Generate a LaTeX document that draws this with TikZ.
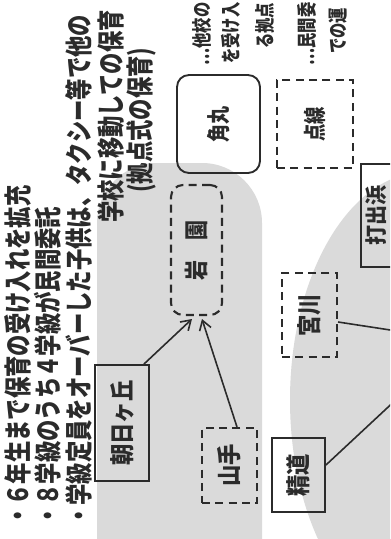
\documentclass[tikz,border=0pt]{standalone}
\usepackage{fontspec}
\setmainfont{Noto Sans CJK JP}
\usepackage{graphicx}
\usetikzlibrary{arrows.meta}
\definecolor{ink}{HTML}{2B2B2B}
\definecolor{blobgray}{HTML}{DADADA}
\newcommand\vlab[3]{\rotatebox{90}{\fontsize{#1}{#1}\selectfont\bfseries\scalebox{1}[#2]{#3}}}
\begin{document}
\begin{tikzpicture}[x=0.75pt,y=-0.75pt,
  solidbox/.style={draw=ink,line width=1.4pt,inner sep=0pt,text=ink},
  dashbox/.style={draw=ink,line width=1.6pt,dash pattern=on 6pt off 4pt,inner sep=0pt,text=ink},
  conn/.style={draw=ink,line width=1.2pt},
  arr/.style={conn,-{Straight Barb[length=7pt,width=9pt,line width=1.2pt]}},
  txt/.style={rotate=90,anchor=west,inner sep=0pt,text=ink},
  bigtxt/.style={txt,font=\fontsize{16pt}{16pt}\selectfont\bfseries},
  smalltxt/.style={txt,font=\fontsize{11.5pt}{11.5pt}\selectfont\bfseries}
]
\useasboundingbox (0,0) rectangle (390,539);
\clip (0,0) rectangle (390,539);
\fill[white] (0,0) rectangle (390,539);
% gray background blobs
\fill[blobgray, rounded corners=45pt] (97,163) rectangle (262,620);
\fill[blobgray] (425,400) ellipse [x radius=101.25pt, y radius=171pt];

% bullet text
\node[bigtxt] (l1) at (17.5,527) {\scalebox{1}[1.3]{・６年生まで保育の受け入れを拡充}};
\node[bigtxt] (l2) at (47.5,527) {\scalebox{1}[1.3]{・８学級のうち４学級が民間委託}};
\node[bigtxt] (l3) at (79,527) {\scalebox{1}[1.3]{・学級定員をオーバーした子供は、タクシー等で他の}};
\node[bigtxt] (l4) at (111,223) {\scalebox{1}[1.3]{学校に移動しての保育}};
\node[bigtxt] (l5) at (141,193) {\scalebox{1}[1.3]{(拠点式の保育)}};

% legend text (cut at top)
\node[smalltxt] (r1) at (202,66) {\scalebox{1}[1.3]{…他校の}};
\node[smalltxt] (r2) at (231,64) {\scalebox{1}[1.3]{を受け入}};
\node[smalltxt] (r3) at (265,49) {\scalebox{1}[1.3]{る拠点}};
\node[smalltxt] (r4) at (307,66) {\scalebox{1}[1.3]{…民間委}};
\node[smalltxt] (r5) at (338,54) {\scalebox{1}[1.3]{での運}};

% boxes
\node[solidbox,rounded corners=9pt,minimum width=62.25pt,minimum height=73.5pt] (kaku) at (218.5,124) {\vlab{13.5pt}{1.3}{角丸}};
\node[dashbox,minimum width=57pt,minimum height=66pt] (tens) at (315,124) {\vlab{13pt}{1.3}{点線}};
\node[dashbox,rounded corners=9pt,minimum width=38.25pt,minimum height=97.5pt] (iwa) at (196.5,250) {\vlab{15pt}{1.2}{岩　園}};
\node[solidbox,minimum width=23.25pt,minimum height=77.25pt] (utsu) at (376.5,215.5) {\vlab{15pt}{1.1}{打出浜}};
\node[dashbox,minimum width=41.25pt,minimum height=63pt] (miya) at (309.5,315) {\vlab{16pt}{1.15}{宮川}};
\node[solidbox,minimum width=40.5pt,minimum height=87pt] (asahi) at (122,423) {\vlab{16pt}{1.15}{朝日ヶ丘}};
\node[dashbox,minimum width=41.25pt,minimum height=56.25pt] (yama) at (229.5,465.5) {\vlab{16pt}{1.15}{山手}};
\node[solidbox,minimum width=39.75pt,minimum height=55.5pt] (seido) at (298.5,475) {\vlab{16pt}{1.15}{精道}};

% connectors
\coordinate (c1) at (400,331.5);
\coordinate (c2) at (400,396);
\draw[arr] ([xshift=-4.5pt]asahi.north east) -- ([xshift=-3.4pt,yshift=-2.2pt]iwa.south);
\draw[arr] ([xshift=5.6pt]yama.north) -- ([xshift=4.1pt,yshift=-2.2pt]iwa.south);
\draw[conn] ([yshift=-5.25pt]miya.east) -- (c1);
\draw[conn] ([yshift=7.5pt]seido.east) -- (c2);
\end{tikzpicture}
\end{document}
